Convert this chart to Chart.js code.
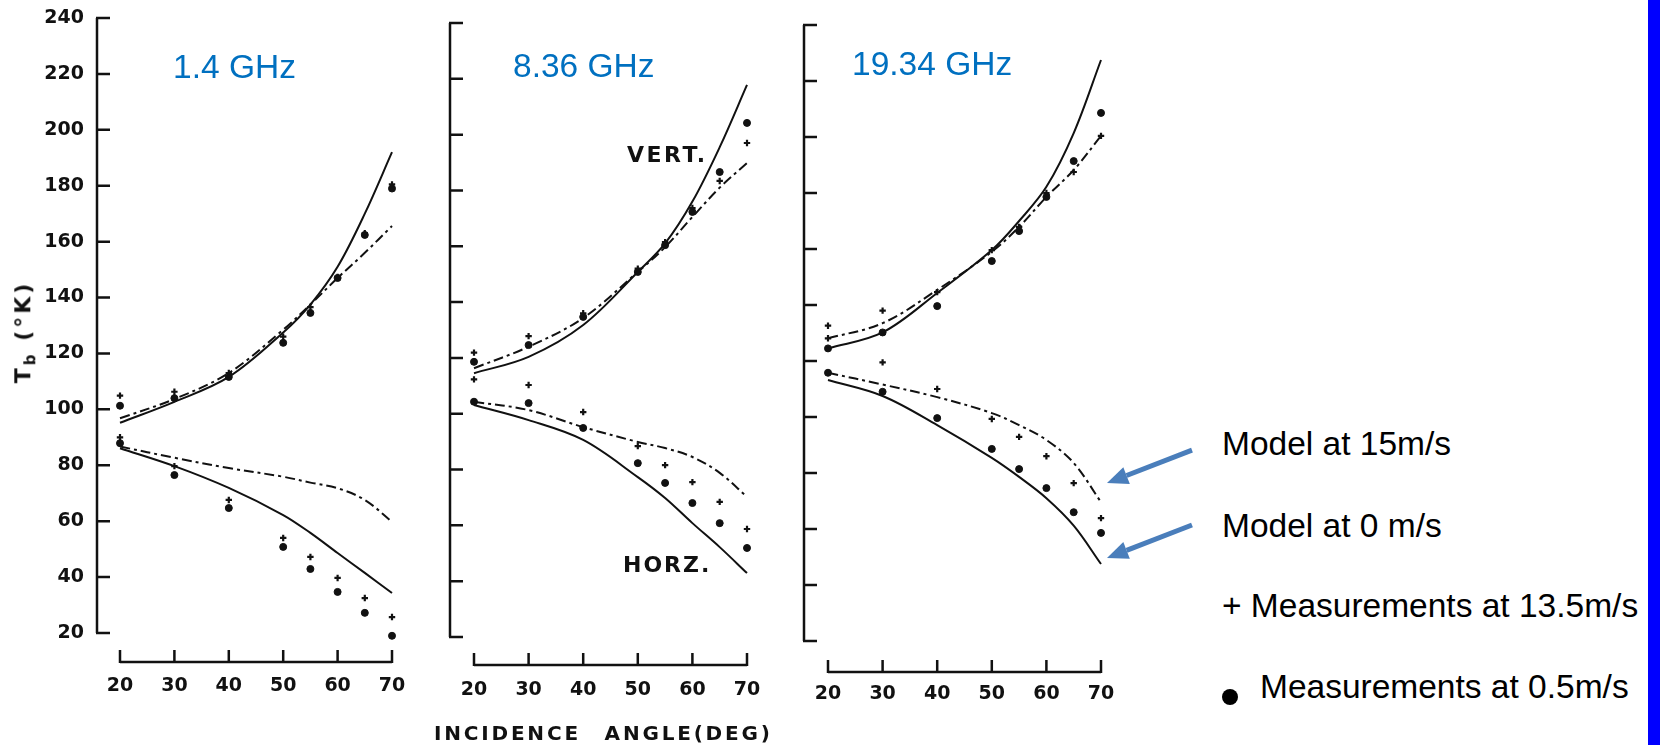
<!DOCTYPE html>
<html>
<head>
<meta charset="utf-8">
<script src="https://cdn.jsdelivr.net/npm/chart.js@4.4.1/dist/chart.umd.min.js"></script>
<style>
  body { margin: 0; background: #fff; }
  #page { position: relative; width: 1660px; height: 745px; overflow: hidden; font-family: 'Liberation Sans', Arial, sans-serif; }
  canvas { position: absolute; top: 0; }
  .ghz { position: absolute; color: #0070c0; font-size: 33.5px; line-height: 33.5px; white-space: nowrap; }
  .key { position: absolute; color: #000; font-size: 33.5px; line-height: 33.5px; white-space: nowrap; }
  .scan { position: absolute; font-family: 'DejaVu Sans', sans-serif; font-weight: bold; color: #111; white-space: nowrap; }
  #bar { position: absolute; left: 1648px; top: 0; width: 12px; height: 745px; background: #0000ff; }
</style>
</head>
<body>
<div id="page">
  <canvas id="p1" width="420" height="745" style="left:0px"></canvas>
  <canvas id="p2" width="360" height="745" style="left:420px"></canvas>
  <canvas id="p3" width="430" height="745" style="left:780px"></canvas>

  <div class="ghz" style="left:173px; top:49.6px">1.4 GHz</div>
  <div class="ghz" style="left:513px; top:49px">8.36 GHz</div>
  <div class="ghz" style="left:852px; top:46.6px">19.34 GHz</div>

  <div class="scan" style="left:627px; top:144.4px; font-size:22px; line-height:22px; letter-spacing:2.5px">VERT.</div>
  <div class="scan" style="left:623px; top:554.4px; font-size:22px; line-height:22px; letter-spacing:2px">HORZ.</div>
  <div class="scan" style="left:434px; top:723px; font-size:20px; line-height:20px; letter-spacing:2.8px; word-spacing:14px">INCIDENCE ANGLE(DEG)</div>
  <div class="scan" style="left:27px; top:332px; font-size:22px; line-height:22px; letter-spacing:3px; transform:translate(-50%,-50%) rotate(-90deg)">T<sub style="font-size:15px">b</sub> (°K)</div>

  <div class="key" style="left:1222px; top:426.6px">Model at 15m/s</div>
  <div class="key" style="left:1222px; top:508.6px">Model at 0 m/s</div>
  <div class="key" style="left:1222px; top:588.6px">+ Measurements at 13.5m/s</div>
  <div style="position:absolute; left:1222px; top:689px; width:16px; height:16px; border-radius:50%; background:#000"></div>
  <div class="key" style="left:1260px; top:669.6px">Measurements at 0.5m/s</div>

  <div id="bar"></div>
</div>
<script>
// incidence angles (deg) where curves and measurements were read
var angles = [20, 30, 40, 50, 55, 60, 65, 70];
var xTicks = [20, 30, 40, 50, 60, 70];

// 1.4 GHz
var v0_1p4 = [95.2, 102.7, 111.6, 127.5, 137.5, 151, 170, 192];
var v15_1p4 = [96.8, 103.7, 113, 128.5, 137.5, 147, 156, 165.6];
var h0_1p4 = [86.1, 79.7, 71.9, 62.2, 55.8, 48.6, 41.5, 34.3];
var h15_1p4 = [86.7, 82.7, 79, 75.9, 73.8, 71.8, 67.6, 59.8];
var vPlus_1p4 = [104.9, 106.3, 113, 126, 136.6, 147.4, 163, 180.5];
var vDot_1p4 = [101.3, 104, 111.6, 123.8, 134.5, 147, 162.4, 179];
var hPlus_1p4 = [90, 79.7, 67.6, 54, 47.2, 39.7, 32.5, 25.7];
var hDot_1p4 = [87.9, 76.5, 64.7, 50.8, 42.9, 34.7, 27.2, 19];

// 8.36 GHz
var v0_8p36 = [114.5, 120.4, 131.8, 150.8, 161, 176, 195.5, 217.8];
var v15_8p36 = [116.3, 124, 134.3, 150.8, 159.7, 170.5, 181, 189.8];
var h0_8p36 = [103.1, 97.7, 90.6, 77.3, 69.8, 60.8, 52.2, 42.9];
var h15_8p36 = [104.3, 101.3, 95.2, 89.9, 87.7, 84.5, 78.8, 70.2];
var vPlus_8p36 = [121.9, 127.8, 136, 152, 161.5, 173.7, 183.4, 197];
var vDot_8p36 = [118.6, 124.6, 134.7, 150.8, 160.4, 172.3, 186.6, 204.2];
var hPlus_8p36 = [112.3, 110.3, 100.6, 88.4, 81.6, 75.5, 68.4, 58.7];
var hDot_8p36 = [104.3, 103.8, 94.9, 82.3, 75.2, 68, 60.8, 51.9];

// 19.34 GHz
var v0_19p34 = [124.5, 130.2, 144.3, 159.6, 170, 182.2, 201.4, 227.5];
var v15_19p34 = [128.1, 133.5, 145.4, 159, 167.9, 178.6, 188.2, 200.4];
var h0_19p34 = [113.2, 107.5, 97.1, 85.4, 78.6, 71, 61.2, 47.5];
var h15_19p34 = [115.8, 111.6, 107.1, 101.4, 97.1, 91.8, 83.6, 69.6];
var vPlus_19p34 = [132.6, 138, 144.6, 159.6, 167.9, 180, 187.5, 200.4];
var vDot_19p34 = [124.5, 130.2, 139.6, 155.7, 166.4, 178.6, 191.4, 208.6];
var hPlus_19p34 = [128.1, 119.5, 110, 99.3, 92.9, 86, 76.4, 63.9];
var hDot_19p34 = [115.8, 109, 99.6, 88.6, 81.4, 74.6, 66, 58.6];

var ink = '#111';
Chart.defaults.font.family = "'DejaVu Sans', sans-serif";

// axes of the scanned figure: bracket style, ticks pointing inwards, set off from the plot
var bracketAxes = {
    id: 'bracketAxes',
    afterDraw: function (chart, args, opts) {
        var ctx = chart.ctx, xs = chart.scales.x, ys = chart.scales.y;
        var ax = chart.chartArea.left - opts.yGap;
        var ay = chart.chartArea.bottom + opts.xGap;
        ctx.save();
        ctx.strokeStyle = ink;
        ctx.lineWidth = 2.5;
        ctx.beginPath();
        ctx.moveTo(ax, ys.getPixelForValue(ys.max));
        ctx.lineTo(ax, ys.getPixelForValue(ys.min));
        ys.ticks.forEach(function (t) {
            var py = ys.getPixelForValue(t.value);
            ctx.moveTo(ax - 1, py);
            ctx.lineTo(ax + opts.yTick, py);
        });
        ctx.moveTo(xs.getPixelForValue(xs.min), ay);
        ctx.lineTo(xs.getPixelForValue(xs.max), ay);
        xs.ticks.forEach(function (t) {
            var px = xs.getPixelForValue(t.value);
            ctx.moveTo(px, ay + 1);
            ctx.lineTo(px, ay - 12);
        });
        ctx.stroke();
        ctx.restore();
    }
};

function drawArrow(ctx, x0, y0, x1, y1) {
    var a = Math.atan2(y1 - y0, x1 - x0), head = 21, half = 9;
    var bx = x1 - head * Math.cos(a), by = y1 - head * Math.sin(a);
    ctx.beginPath();
    ctx.moveTo(x0, y0);
    ctx.lineTo(bx, by);
    ctx.stroke();
    ctx.beginPath();
    ctx.moveTo(x1, y1);
    ctx.lineTo(bx + half * Math.sin(a), by - half * Math.cos(a));
    ctx.lineTo(bx - half * Math.sin(a), by + half * Math.cos(a));
    ctx.closePath();
    ctx.fill();
}

// blue arrows pointing at the ends of the two model curves of the last panel
var pointerArrows = {
    id: 'pointerArrows',
    afterDraw: function (chart) {
        var ctx = chart.ctx, xs = chart.scales.x, ys = chart.scales.y;
        var last = angles.length - 1;
        var ends = [[h15_19p34[last], -19], [h0_19p34[last], -6]];
        ctx.save();
        ctx.strokeStyle = '#4a7ebb';
        ctx.fillStyle = '#4a7ebb';
        ctx.lineWidth = 5;
        ends.forEach(function (e) {
            var tx = xs.getPixelForValue(angles[last]) + 6;
            var ty = ys.getPixelForValue(e[0]) + e[1];
            drawArrow(ctx, tx + 85, ty - 33, tx, ty);
        });
        ctx.restore();
    }
};

// keep the plot area where the scan has it: no extra room for the tick labels
function noPadding(scale) {
    scale.paddingTop = 0;
    scale.paddingBottom = 0;
    scale.paddingLeft = 0;
    scale.paddingRight = 0;
}

function pts(vals) {
    return angles.map(function (a, i) { return { x: a, y: vals[i] }; });
}

function curve(vals, dash) {
    return {
        data: pts(vals),
        borderColor: ink,
        borderWidth: 2,
        borderDash: dash,
        pointRadius: 0,
        fill: false,
        tension: 0.35,
        clip: false
    };
}

function marks(vals, style) {
    return {
        data: pts(vals),
        showLine: false,
        pointStyle: style,
        pointRadius: style === 'cross' ? 3.2 : 3.5,
        pointBorderWidth: style === 'cross' ? 2.2 : 1,
        pointBackgroundColor: ink,
        pointBorderColor: ink,
        clip: false
    };
}

function makePanel(canvasId, s, box) {
    var ctx = document.getElementById(canvasId).getContext('2d');
    var dashDot = [10, 4, 3, 4];
    new Chart(ctx, {
        type: 'line',
        data: {
            datasets: [
                curve(s.v0, []),
                curve(s.v15, dashDot),
                curve(s.h0, []),
                curve(s.h15, dashDot),
                marks(s.vPlus, 'cross'),
                marks(s.hPlus, 'cross'),
                marks(s.vDot, 'circle'),
                marks(s.hDot, 'circle')
            ]
        },
        options: {
            responsive: false,
            animation: false,
            events: [],
            layout: { padding: { top: box.top, right: box.width - box.right, left: 0, bottom: 0 } },
            plugins: {
                legend: { display: false },
                tooltip: { enabled: false },
                bracketAxes: { yGap: box.yGap, xGap: box.xGap, yTick: 13 }
            },
            scales: {
                x: {
                    type: 'linear',
                    min: 20,
                    max: 70,
                    afterBuildTicks: function (scale) { scale.ticks = xTicks.map(function (v) { return { value: v }; }); },
                    afterFit: function (scale) { scale.height = box.height - box.bottom; noPadding(scale); },
                    grid: { display: false, drawTicks: false },
                    border: { display: false },
                    ticks: { color: ink, padding: 42, maxRotation: 0, font: { size: 19, weight: 'bold' } }
                },
                y: {
                    type: 'linear',
                    min: 20,
                    max: 240,
                    afterFit: function (scale) { scale.width = box.left; noPadding(scale); },
                    grid: { display: false, drawTicks: false },
                    border: { display: false },
                    ticks: { display: box.labels, stepSize: 20, color: ink, padding: 36, font: { size: 19, weight: 'bold' } }
                }
            }
        },
        plugins: box.extra ? [bracketAxes, box.extra] : [bracketAxes]
    });
}

makePanel('p1', { v0: v0_1p4, v15: v15_1p4, h0: h0_1p4, h15: h15_1p4, vPlus: vPlus_1p4, vDot: vDot_1p4, hPlus: hPlus_1p4, hDot: hDot_1p4 },
    { width: 420, height: 745, left: 120, right: 392, top: 18, bottom: 633, yGap: 23, xGap: 29, labels: true });
makePanel('p2', { v0: v0_8p36, v15: v15_8p36, h0: h0_8p36, h15: h15_8p36, vPlus: vPlus_8p36, vDot: vDot_8p36, hPlus: hPlus_8p36, hDot: hDot_8p36 },
    { width: 360, height: 745, left: 54, right: 327, top: 23, bottom: 637, yGap: 24, xGap: 28, labels: false });
makePanel('p3', { v0: v0_19p34, v15: v15_19p34, h0: h0_19p34, h15: h15_19p34, vPlus: vPlus_19p34, vDot: vDot_19p34, hPlus: hPlus_19p34, hDot: hDot_19p34 },
    { width: 430, height: 745, left: 48, right: 321, top: 25, bottom: 641, yGap: 24, xGap: 31, labels: false, extra: pointerArrows });
</script>
</body>
</html>
